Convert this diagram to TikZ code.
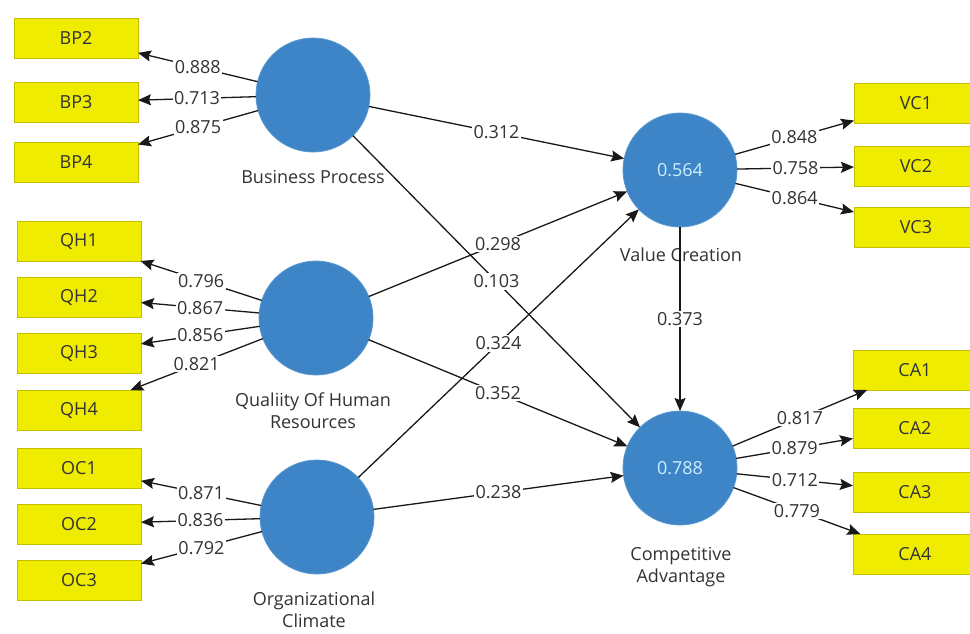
\documentclass[tikz,border=0pt]{standalone}
\usepackage{fontspec}
\setmainfont{Open Sans}
\usetikzlibrary{arrows.meta}
\definecolor{lv}{HTML}{3D85C6}
\definecolor{mv}{HTML}{F0EC00}
\definecolor{mvb}{HTML}{C4BF00}
\definecolor{txt}{HTML}{333333}
\definecolor{rsq}{HTML}{CDEFFF}
\begin{document}
\begin{tikzpicture}[x=1pt,y=-1pt,
  font=\fontsize{18}{22}\selectfont,
  latent/.style={circle, fill=lv, draw=lv!85!white, line width=0.8pt, minimum size=114pt, inner sep=0pt, outer sep=0pt, text=rsq},
  ind/.style={rectangle, fill=mv, draw=mvb, line width=0.8pt, minimum width=124pt, minimum height=40pt, inner sep=0pt, outer sep=0pt, text=txt},
  lvcap/.style={text=txt, align=center},
  link/.style={draw=black!90, line width=1.3pt, -{Stealth[length=13pt,width=11pt,inset=2pt]}},
  lbl/.style={fill=white, text=txt, inner sep=1.5pt, pos=0.5}
]
\useasboundingbox (0,0) rectangle (970,633);
\clip (0,0) rectangle (970,633);
\fill[white] (0,0) rectangle (970,633);

% latent variables
\node[latent] (BP) at (313,95) {};
\node[latent] (QH) at (316,318) {};
\node[latent] (OC) at (317,517) {};
\node[latent] (VC) at (680,170) {0.564};
\node[latent] (CA) at (680,468) {0.788};

% captions
\node[lvcap] (BPl) at (313,177) {Business Process};
\node[lvcap] (QHl) at (313,411) {Qualiity Of Human\\Resources};
\node[lvcap] (OCl) at (314,610) {Organizational\\Climate};
\node[lvcap] (VCl) at (681,255) {Value Creation};
\node[lvcap] (CAl) at (681,567) {Competitive\\Advantage};

% indicators left
\node[ind] (BP2) at (76,38) {BP2};
\node[ind] (BP3) at (76,102) {BP3};
\node[ind] (BP4) at (76,162) {BP4};
\node[ind] (QH1) at (79,241) {QH1};
\node[ind] (QH2) at (79,297) {QH2};
\node[ind] (QH3) at (79,353) {QH3};
\node[ind] (QH4) at (79,410) {QH4};
\node[ind] (OC1) at (79,468) {OC1};
\node[ind] (OC2) at (79,524) {OC2};
\node[ind] (OC3) at (79,580) {OC3};
% indicators right
\node[ind] (VC1) at (916,103) {VC1};
\node[ind] (VC2) at (916,166) {VC2};
\node[ind] (VC3) at (916,227) {VC3};
\node[ind] (CA1) at (915,370) {CA1};
\node[ind] (CA2) at (915,428) {CA2};
\node[ind] (CA3) at (915,492) {CA3};
\node[ind] (CA4) at (915,554) {CA4};

% outer loadings
\draw[link] (BP) -- node[lbl]{0.888} (BP2);
\draw[link] (BP) -- node[lbl]{0.713} (BP3);
\draw[link] (BP) -- node[lbl]{0.875} (BP4);
\draw[link] (QH) -- node[lbl]{0.796} (QH1);
\draw[link] (QH) -- node[lbl]{0.867} (QH2);
\draw[link] (QH) -- node[lbl]{0.856} (QH3);
\draw[link] (QH) -- node[lbl]{0.821} (QH4);
\draw[link] (OC) -- node[lbl]{0.871} (OC1);
\draw[link] (OC) -- node[lbl]{0.836} (OC2);
\draw[link] (OC) -- node[lbl]{0.792} (OC3);
\draw[link] (VC) -- node[lbl]{0.848} (VC1);
\draw[link] (VC) -- node[lbl]{0.758} (VC2);
\draw[link] (VC) -- node[lbl]{0.864} (VC3);
\draw[link] (CA) -- node[lbl]{0.817} (CA1);
\draw[link] (CA) -- node[lbl]{0.879} (CA2);
\draw[link] (CA) -- node[lbl]{0.712} (CA3);
\draw[link] (CA) -- node[lbl]{0.779} (CA4);

% structural paths
\draw[link] (BP) -- node[lbl]{0.312} (VC);
\draw[link] (BP) -- node[lbl]{0.103} (CA);
\draw[link] (QH) -- node[lbl]{0.298} (VC);
\draw[link] (QH) -- node[lbl]{0.352} (CA);
\draw[link] (OC) -- node[lbl]{0.324} (VC);
\draw[link] (OC) -- node[lbl]{0.238} (CA);
\draw[link] (VC) -- node[lbl]{0.373} (CA);
\end{tikzpicture}
\end{document}
